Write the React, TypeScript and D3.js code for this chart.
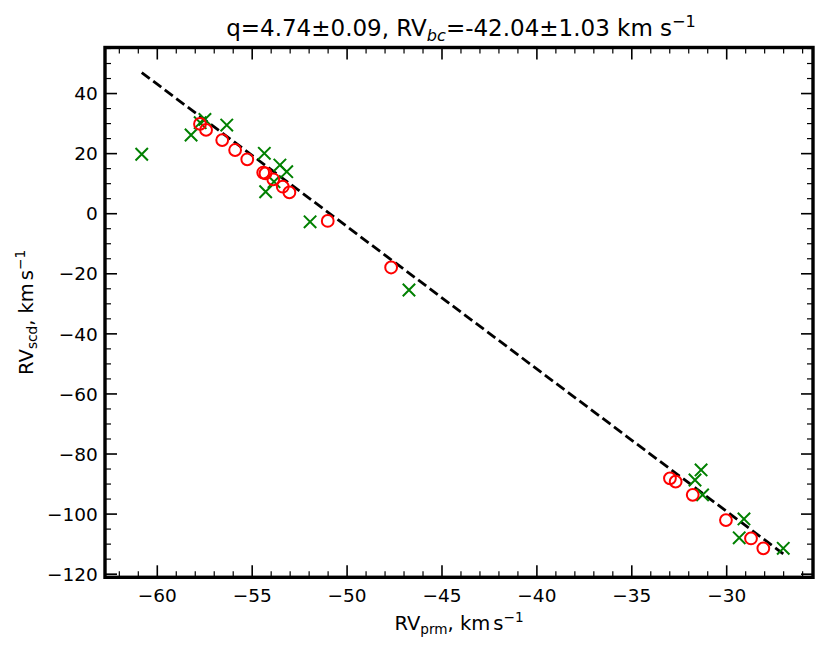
import * as d3 from 'd3';

const circleX = [-57.75, -57.43, -56.58, -55.9, -55.26, -54.42, -54.3, -53.89, -53.39, -53.04, -51.02, -47.68,
  -32.99, -32.69, -31.79, -30.04, -28.72, -28.07];
const circleY = [29.9, 27.9, 24.5, 21.2, 18.1, 13.7, 13.4, 11.45, 9.0, 7.1, -2.4, -17.9,
  -88.1, -89.2, -93.6, -102.0, -108.1, -111.4];

const crossX = [-60.82, -58.22, -57.74, -57.49, -56.34, -54.36, -53.54, -53.18, -53.85, -54.29, -51.95, -46.74,
  -31.35, -31.67, -31.27, -29.09, -29.34, -27.02];
const crossY = [19.8, 26.2, 30.3, 31.4, 29.5, 20.1, 16.2, 14.0, 10.65, 7.3, -2.7, -25.4,
  -85.3, -88.65, -93.6, -101.6, -107.9, -111.4];

const q = 4.74;
const rvBc = -42.04;

const xTicks = [-60, -55, -50, -45, -40, -35, -30];
const yTicks = [40, 20, 0, -20, -40, -60, -80, -100, -120];

const W = 831;
const H = 653;
const left = 105, right = 813, top = 47.5, bottom = 577.3;
const font = "'DejaVu Sans', sans-serif";

export default function App() {
  const x = d3.scaleLinear().domain([-62.755, -25.453]).range([left, right]);
  const y = d3.scaleLinear().domain([-121.04, 55.33]).range([bottom, top]);

  const xMinor = d3.range(-62, -25, 1).filter(v => v % 5 !== 0);
  const yMinor = d3.range(-120, 56, 5).filter(v => v % 20 !== 0);

  const xs = [d3.min(crossX)!, d3.max(crossX)!];
  const fitLine = d3.line<number>()
    .x(v => x(v))
    .y(v => y(rvBc - q * (v - rvBc)));

  const majorLen = 12, minorLen = 6;

  return (
    <div style={{ position: 'absolute', left: 0, top: 0 }}>
      <svg width={W} height={H} style={{ display: 'block', background: '#fff' }}>
        {/* fit line */}
        <path d={fitLine(xs)!} fill="none" stroke="#000" strokeWidth={2.8} strokeDasharray="10,4.4" />

        {/* secondary: crosses */}
        {crossX.map((v, i) => {
          const cx = x(v), cy = y(crossY[i]), s = 6.2;
          return (
            <path key={'x' + i} d={`M${cx - s},${cy - s}L${cx + s},${cy + s}M${cx - s},${cy + s}L${cx + s},${cy - s}`}
              stroke="#008000" strokeWidth={2} fill="none" />
          );
        })}

        {/* primary: circles */}
        {circleX.map((v, i) => (
          <circle key={'c' + i} cx={x(v)} cy={y(circleY[i])} r={5.9} fill="none" stroke="#ff0000" strokeWidth={2} />
        ))}

        {/* ticks, all sides inward */}
        {xTicks.map(t => (
          <g key={'xt' + t}>
            <line x1={x(t)} x2={x(t)} y1={bottom} y2={bottom - majorLen} stroke="#000" strokeWidth={1.6} />
            <line x1={x(t)} x2={x(t)} y1={top} y2={top + majorLen} stroke="#000" strokeWidth={1.6} />
            <text x={x(t)} y={601.5} textAnchor="middle" fontFamily={font} fontSize={18.5}>
              {t < 0 ? '\u2212' + Math.abs(t) : String(t)}
            </text>
          </g>
        ))}
        {xMinor.map(t => (
          <g key={'xm' + t}>
            <line x1={x(t)} x2={x(t)} y1={bottom} y2={bottom - minorLen} stroke="#000" strokeWidth={1.2} />
            <line x1={x(t)} x2={x(t)} y1={top} y2={top + minorLen} stroke="#000" strokeWidth={1.2} />
          </g>
        ))}
        {yTicks.map(t => (
          <g key={'yt' + t}>
            <line x1={left} x2={left + majorLen} y1={y(t)} y2={y(t)} stroke="#000" strokeWidth={1.6} />
            <line x1={right} x2={right - majorLen} y1={y(t)} y2={y(t)} stroke="#000" strokeWidth={1.6} />
            <text x={97.7} y={y(t)} dy="0.36em" textAnchor="end" fontFamily={font} fontSize={18.5}>
              {t < 0 ? '\u2212' + Math.abs(t) : String(t)}
            </text>
          </g>
        ))}
        {yMinor.map(t => (
          <g key={'ym' + t}>
            <line x1={left} x2={left + minorLen} y1={y(t)} y2={y(t)} stroke="#000" strokeWidth={1.2} />
            <line x1={right} x2={right - minorLen} y1={y(t)} y2={y(t)} stroke="#000" strokeWidth={1.2} />
          </g>
        ))}

        {/* frame */}
        <rect x={left} y={top} width={right - left} height={bottom - top} fill="none" stroke="#000" strokeWidth={3.4} />

        {/* title */}
        <text x={(left + right) / 2 + 2} y={36} textAnchor="middle" fontFamily={font} fontSize={23}>
          <tspan>q=4.74±0.09, RV</tspan>
          <tspan fontSize={16.1} fontStyle="italic" dy={4.6}>bc</tspan>
          <tspan dy={-4.6}>=-42.04±1.03 km s</tspan>
          <tspan fontSize={16.1} dy={-9.2}>{'\u22121'}</tspan>
        </text>

        {/* x label */}
        <text x={(left + right) / 2} y={630} textAnchor="middle" fontFamily={font} fontSize={19.5}>
          <tspan>RV</tspan>
          <tspan fontSize={13.65} dy={4}>prm</tspan>
          <tspan dy={-4}>, km</tspan>
          <tspan dx={3}>s</tspan>
          <tspan fontSize={13.65} dy={-8}>{'\u22121'}</tspan>
        </text>

        {/* y label */}
        <text transform={`translate(33,${(top + bottom) / 2}) rotate(-90)`} textAnchor="middle" fontFamily={font} fontSize={19.5}>
          <tspan>RV</tspan>
          <tspan fontSize={13.65} dy={4}>scd</tspan>
          <tspan dy={-4}>, km</tspan>
          <tspan dx={3}>s</tspan>
          <tspan fontSize={13.65} dy={-8}>{'\u22121'}</tspan>
        </text>
      </svg>
    </div>
  );
}
